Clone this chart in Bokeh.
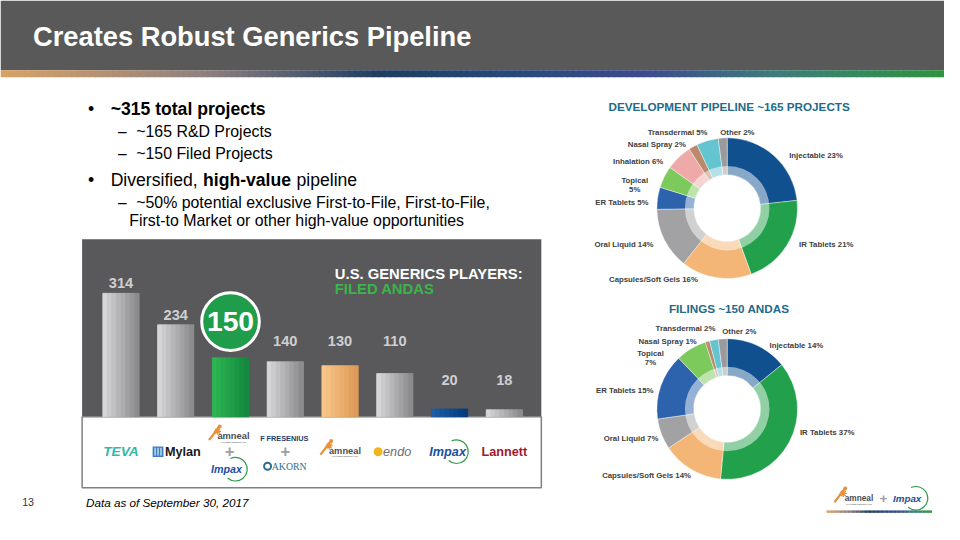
import math
from bokeh.plotting import figure
from bokeh.models import Range1d
from bokeh.core.properties import value
from bokeh.embed import file_html
from bokeh.resources import INLINE

# ---------------- data ----------------
companies = ["Teva", "Mylan", "Amneal + Impax", "Fresenius + Akorn", "Amneal", "Endo", "Impax", "Lannett"]
filed_andas = [314, 234, 150, 140, 130, 110, 20, 18]

dev_categories = ["Injectable", "IR Tablets", "Capsules/Soft Gels", "Oral Liquid", "ER Tablets",
                  "Topical", "Inhalation", "Nasal Spray", "Transdermal", "Other"]
dev_share = [23, 21, 16, 14, 5, 5, 6, 2, 5, 2]

fil_categories = ["Injectable", "IR Tablets", "Capsules/Soft Gels", "Oral Liquid", "ER Tablets",
                  "Topical", "Nasal Spray", "Transdermal", "Other"]
fil_share = [14, 37, 14, 7, 15, 7, 1, 2, 2]

# ---------------- styles / layout ----------------
FONT = "Liberation Sans"
W, H = 944, 524
FS = 0.976


def fs(px):
    return f"{px * FS:.1f}px"


bar_grad = {
    "gray": ("#d6d6d8", "#8c8c8e"),
    "green": ("#2db552", "#15893f"),
    "orange": ("#f8c68a", "#dd9a58"),
    "blue": ("#1c5ea6", "#073c7c"),
}
bar_style = ["gray", "gray", "green", "gray", "orange", "gray", "blue", "gray"]
bar_label_at = [339, 258, None, 192, 192, 192, 94, 94]   # label anchors, in ANDA units
highlight_idx = 2
highlight_at = 242

slice_colors = {
    "Injectable": "#11508f", "IR Tablets": "#22a04b", "Capsules/Soft Gels": "#f3b676",
    "Oral Liquid": "#a2a2a4", "ER Tablets": "#2d62ad", "Topical": "#7cc95c",
    "Inhalation": "#eeaaa8", "Nasal Spray": "#b98a6e", "Transdermal": "#64c4cf",
    "Other": "#9a9a9c",
}
# label anchors (x, y, align) in slide pixels
dev_label_pos = [(802, 160, "left"), (812, 251, "left"), (664, 288, "center"), (664, 251, "right"),
                 (659, 208, "right"), (645, 186, "center"), (674, 166, "right"), (697, 148, "right"),
                 (719, 136, "right"), (732, 136, "left")]
fil_label_pos = [(782, 356, "left"), (813, 445, "left"), (657, 490, "center"), (669, 451, "right"),
                 (664, 402, "right"), (661, 364, "center"), (708, 351, "right"), (727, 338, "right"),
                 (734, 341, "left")]

BAR_X0, BAR_STEP, BAR_W = 122.5, 55.7, 37.0
BAR_BASE, BAR_SCALE = 429.0, 0.4054

p = figure(width=W, height=H, x_range=Range1d(0, 960), y_range=Range1d(540, 0),
           output_backend="svg", toolbar_location=None, min_border=0)
p.axis.visible = False
p.grid.visible = False
p.outline_line_color = None
p.background_fill_color = "white"
p.border_fill_color = "white"
p.extra_x_ranges = {"bx": Range1d(-BAR_X0 / BAR_STEP, (960 - BAR_X0) / BAR_STEP)}
p.extra_y_ranges = {"by": Range1d((BAR_BASE - 540) / BAR_SCALE, BAR_BASE / BAR_SCALE)}


def txt(x, y, s, size, color="#000000", style="normal", align="left", font=FONT, **kw):
    p.text(x=[x], y=[y], text=[s], text_font=value(font), text_font_size=fs(size),
           text_font_style=style, text_color=color, text_align=align, text_baseline="middle", **kw)


def hexrgb(h):
    h = h.lstrip("#")
    return tuple(int(h[i:i + 2], 16) for i in (0, 2, 4))


def mix(c1, c2, t):
    a, b = hexrgb(c1), hexrgb(c2)
    return "#%02x%02x%02x" % tuple(round(a[i] + (b[i] - a[i]) * t) for i in range(3))


def gradient(stops, t):
    for (t0, c0), (t1, c1) in zip(stops, stops[1:]):
        if t0 <= t <= t1:
            return mix(c0, c1, (t - t0) / (t1 - t0) if t1 > t0 else 0)
    return stops[-1][1]


# ---------------- header ----------------
p.quad(left=0, right=960, top=0, bottom=72, fill_color="#595959", line_color=None)
stripe_stops = [(0.0, "#d9a266"), (0.22, "#8d7f80"), (0.40, "#1f3d60"), (0.55, "#284a7c"),
                (0.68, "#3d4a8c"), (0.82, "#3d7c7c"), (1.0, "#2e943f")]
N = 160
ls = [960 * k / N for k in range(N)]
rs = [960 * (k + 1) / N + 0.8 for k in range(N)]
cs = [gradient(stripe_stops, (k + 0.5) / N) for k in range(N)]
p.quad(left=ls, right=rs, top=72, bottom=79, fill_color=cs, line_color=None)
txt(33, 37, "Creates Robust Generics Pipeline", 28, color="white", style="bold")

# ---------------- bullets ----------------
txt(89, 112, "•", 18)
txt(112, 112, "~315 total projects", 18, style="bold")
txt(124, 135, "–", 16, align="center")
txt(138, 135, "~165 R&D Projects", 16.3)
txt(124, 158, "–", 16, align="center")
txt(138, 158, "~150 Filed Projects", 16.3)
txt(89, 185, "•", 18)
txt(112, 185, "Diversified, ", 18)
txt(206, 185, "high-value", 18, style="bold")
txt(301, 185, "pipeline", 18)
txt(124, 208, "–", 16, align="center")
txt(138, 208, "~50% potential exclusive First-to-File, First-to-File,", 16.3)
txt(131, 227, "First-to Market or other high-value opportunities", 16.3)

# ---------------- bar chart panel ----------------
p.quad(left=83, right=550, top=246, bottom=429, fill_color="#59595b", line_color=None)
p.quad(left=83, right=550, top=429, bottom=502, fill_color="white", line_color="#808080", line_width=1.5)

idx = list(range(len(filed_andas)))
wu = BAR_W / BAR_STEP
# base bars (mid tone), then a horizontal shading overlay
p.vbar(x=idx, top=filed_andas, bottom=0, width=wu,
       fill_color=[mix(bar_grad[s][0], bar_grad[s][1], 0.5) for s in bar_style], line_color=None,
       x_range_name="bx", y_range_name="by")
NS = 8
for k in range(NS):
    xs = [i - wu / 2 + (k + 0.5) * wu / NS for i in idx]
    cols = [mix(bar_grad[s][0], bar_grad[s][1], k / (NS - 1)) for s in bar_style]
    p.vbar(x=xs, top=filed_andas, bottom=0, width=wu / NS, fill_color=cols, line_color=cols,
           line_width=0.6, x_range_name="bx", y_range_name="by")

lab_x = [i for i in idx if bar_label_at[i] is not None]
p.text(x=lab_x, y=[bar_label_at[i] for i in lab_x], text=[str(filed_andas[i]) for i in lab_x],
       x_range_name="bx", y_range_name="by", text_font=value(FONT), text_font_size=fs(15),
       text_font_style="bold", text_color="#cfcfd1", text_align="center", text_baseline="middle")

p.circle(x=[highlight_idx], y=[highlight_at], radius=29.5 * FS, radius_units="screen",
         fill_color="#1f9d4a", line_color="white", line_width=3, x_range_name="bx", y_range_name="by")
p.text(x=[highlight_idx], y=[highlight_at], text=[str(filed_andas[highlight_idx])],
       x_range_name="bx", y_range_name="by", text_font=value(FONT), text_font_size=fs(29),
       text_font_style="bold", text_color="white", text_align="center", text_baseline="middle")

txt(340, 282, "U.S. GENERICS PLAYERS:", 15.2, color="white", style="bold")
txt(340, 297, "FILED ANDAS", 15.2, color="#39b54a", style="bold")

# ---------------- logos (as text) ----------------
LY = 465


def cx(i):
    return BAR_X0 + BAR_STEP * i


def amneal_logo(x, y, size=9.5):
    p.bezier(x0=[x - 22], y0=[y + 3], x1=[x - 11], y1=[y - 11], cx0=[x - 17], cy0=[y - 2],
             cx1=[x - 15], cy1=[y - 8], line_color="#e8913a", line_width=2.2)
    p.scatter(x=[x - 11], y=[y - 11], size=4, marker="circle", fill_color="#e8913a", line_color=None)
    p.scatter(x=[x - 13], y=[y - 6], size=7, marker="asterisk", line_color="#e8913a", line_width=1.3)
    txt(x + 3, y - 1, "amneal", size, color="#4d4d4f", style="bold", align="center")
    txt(x + 3, y + 5, "PHARMACEUTICALS", 2.6, color="#6d6d6f", style="bold", align="center")


def impax_logo(x, y, size=11):
    p.arc(x=[x + 9], y=[y], radius=12, start_angle=-2.3, end_angle=2.0, direction="anticlock",
          line_color="#2e9c46", line_width=1.2)
    txt(x, y, "Impax", size, color="#1d4f9c", style="bold italic", align="center")


# Teva
txt(cx(0), LY, "TEVA", 14, color="#34b7a7", style="bold italic", align="center")
# Mylan
p.rect(x=[cx(1) - 18], y=[LY], width=11, height=11, fill_color="#3d7fc3", line_color=None)
p.segment(x0=[cx(1) - 21, cx(1) - 18, cx(1) - 15], y0=[LY - 4] * 3, x1=[cx(1) - 21, cx(1) - 18, cx(1) - 15],
          y1=[LY + 4] * 3, line_color="white", line_width=1)
txt(cx(1) - 11, LY, "Mylan", 13, color="#1a1a1a", style="bold")
# Amneal + Impax
amneal_logo(cx(2), 450)
txt(cx(2) - 1, 464, "+", 17, color="#a0a0a0", style="bold", align="center")
impax_logo(cx(2) - 4, 483)
# Fresenius + Akorn
txt(cx(3), 451, "F  FRESENIUS", 7.5, color="#1d3c6e", style="bold", align="center")
txt(cx(3), 464, "+", 17, color="#a0a0a0", style="bold", align="center")
p.scatter(x=[cx(3) - 18], y=[480], size=7, marker="circle", fill_color=None, line_color="#2a6e96",
          line_width=2)
txt(cx(3) + 4, 480, "AKORN", 10, color="#2a6e96", align="center", font="Liberation Serif")
# Amneal
amneal_logo(cx(4) + 2, LY)
# Endo
p.scatter(x=[cx(5) - 17], y=[LY], size=9, marker="circle", fill_color="#f1b51c", line_color=None)
txt(cx(5) - 12, LY, "endo", 13, color="#6e6e70", style="italic")
# Impax
impax_logo(cx(6) - 2, LY, size=13)
# Lannett
txt(cx(7), LY, "Lannett", 13, color="#9e1b32", style="bold", align="center")

# ---------------- donuts ----------------


def donut(cx0, cy0, title, title_y, cats, share, label_pos):
    total = float(sum(share))
    cum = 0.0
    starts, ends = [], []
    for s in share:
        a0 = math.pi / 2 - 2 * math.pi * cum / total
        cum += s
        a1 = math.pi / 2 - 2 * math.pi * cum / total
        starts.append(a1)
        ends.append(a0)
    p.annular_wedge(x=cx0, y=cy0, inner_radius=34, outer_radius=71.5, start_angle=starts, end_angle=ends,
                    fill_color=[slice_colors[c] for c in cats], line_color="white", line_width=0.4,
                    direction="anticlock")
    p.annulus(x=cx0, y=cy0, inner_radius=34, outer_radius=43, fill_color="white", fill_alpha=0.5,
              line_color=None)
    txt(cx0 + 2, title_y, title, 12, color="#216b8a", style="bold", align="center")
    for c, s, (lx, ly, al) in zip(cats, share, label_pos):
        if c == "Topical":
            txt(lx, ly, c, 8, color="#404040", style="bold", align=al)
            txt(lx, ly + 9, f"{s}%", 8, color="#404040", style="bold", align=al)
        else:
            txt(lx, ly, f"{c} {s}%", 8, color="#404040", style="bold", align=al)


donut(739, 214, "DEVELOPMENT PIPELINE ~165 PROJECTS", 109, dev_categories, dev_share, dev_label_pos)
donut(739, 421, "FILINGS ~150 ANDAS", 317, fil_categories, fil_share, fil_label_pos)

# ---------------- footer ----------------
txt(22, 517, "13", 11, color="#333333")
txt(87, 517, "Data as of September 30, 2017", 12, color="#000000", style="italic")

amneal_logo(870, 514, size=8.5)
txt(898, 513, "+", 14, color="#a0a0a0", style="bold", align="center")
impax_logo(922, 513, size=10)
gl = [840 + 107 * k / 80 for k in range(80)]
gr = [840 + 107 * (k + 1) / 80 + 0.3 for k in range(80)]
gc = [gradient(stripe_stops, (k + 0.5) / 80) for k in range(80)]
p.quad(left=gl, right=gr, top=525.5, bottom=528, fill_color=gc, line_color=None)

open("out.html", "w").write(file_html(p, INLINE))
